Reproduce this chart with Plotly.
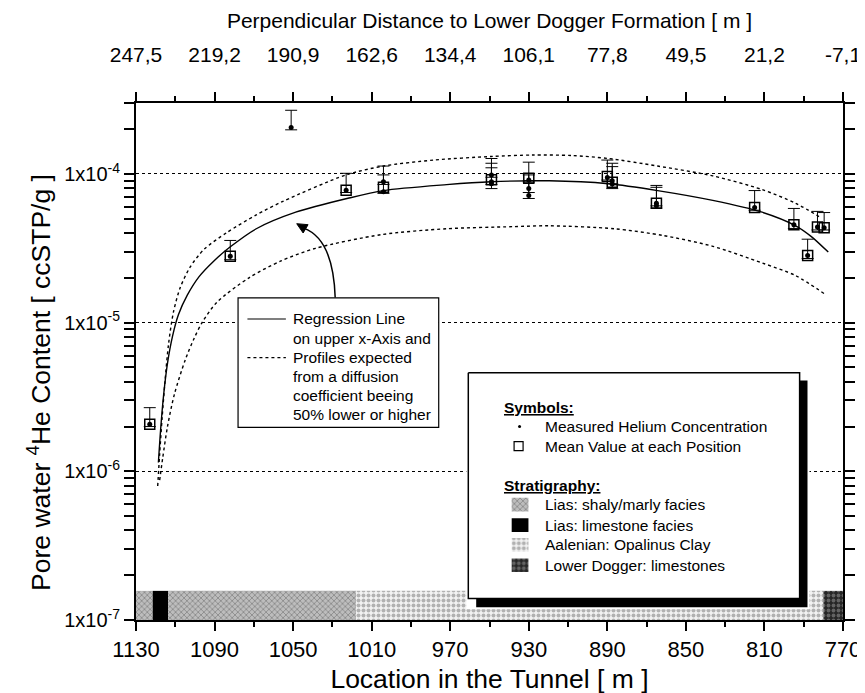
import plotly.graph_objects as go
import math

# ---------------- data ----------------
# individual measurements: location [m], value, upper end of error bar, lower end of error bar
meas_loc = [1123, 1082, 1051, 1023, 1004, 1004, 949, 949, 949, 930, 930, 930,
            890, 887.5, 887.5, 865, 865, 815, 795, 788, 783, 779.6]
meas_val = [2.07e-6, 2.80e-5, 2.05e-4, 7.77e-5, 8.85e-5, 7.6e-5, 9.85e-5, 8.86e-5, 8.6e-5,
            9.1e-5, 7.97e-5, 7.17e-5, 9.45e-5, 9.0e-5, 8.55e-5, 6.35e-5, 6.1e-5,
            5.94e-5, 4.55e-5, 2.83e-5, 4.39e-5, 4.35e-5]
meas_hi = [2.68e-6, 3.57e-5, 2.68e-4, 1.01e-4, 1.13e-4, 9.85e-5, 1.27e-4, 1.18e-4, 1.10e-4,
           1.20e-4, 9.85e-5, 9.0e-5, 1.24e-4, 1.18e-4, 1.12e-4, 8.37e-5, 8.13e-5,
           7.73e-5, 5.86e-5, 3.64e-5, 5.6e-5, 5.5e-5]
meas_lo = [2.0e-6, 2.65e-5, 1.98e-4, 7.5e-5, 8.5e-5, 7.4e-5, 9.5e-5, 8.5e-5, 7.97e-5,
           8.8e-5, 7.5e-5, 6.84e-5, 9.1e-5, 8.6e-5, 7.97e-5, 6.1e-5, 5.9e-5,
           5.7e-5, 4.3e-5, 2.7e-5, 4.2e-5, 4.2e-5]

# mean value at each position
mean_loc = [1123, 1082, 1023, 1004, 949, 930, 890, 887.5, 865, 815, 795, 788, 783, 779.6]
mean_val = [2.07e-6, 2.80e-5, 7.77e-5, 8.13e-5, 9.13e-5, 9.37e-5, 9.6e-5, 8.8e-5,
            6.35e-5, 5.94e-5, 4.55e-5, 2.83e-5, 4.39e-5, 4.35e-5]

# regression line
reg_loc = [1118.6, 1117.45, 1115.94, 1113.93, 1111.42, 1108.41, 1103.89, 1097.87, 1090.33,
           1082.3, 1068.75, 1048.66, 1022.05, 1004.0, 971.85, 949.3, 919.6, 889.5, 864.4,
           836.3, 811.2, 794.1, 786.1, 777.5]
reg_val = [1.146e-6, 1.92e-6, 3.26e-6, 5.37e-6, 8.09e-6, 1.13e-5, 1.53e-5, 2.04e-5, 2.60e-5,
           3.21e-5, 4.28e-5, 5.53e-5, 6.86e-5, 7.73e-5, 8.47e-5, 8.86e-5, 8.99e-5, 8.59e-5,
           7.73e-5, 6.64e-5, 5.53e-5, 4.48e-5, 3.79e-5, 2.98e-5]

# profile expected for the higher diffusion coefficient
up_loc = [1118.95, 1117.95, 1116.69, 1115.19, 1113.43, 1110.92, 1107.41, 1102.39, 1095.36,
          1083.81, 1068.75, 1055.19, 1023.06, 1003.98, 978.37, 949.25, 928.16, 908.08,
          889.5, 864.4, 836.28, 811.18, 794.11, 781.06]
up_val = [7.96e-7, 1.31e-6, 2.30e-6, 4.09e-6, 7.17e-6, 1.18e-5, 1.73e-5, 2.37e-5, 3.11e-5,
          4.03e-5, 5.30e-5, 6.54e-5, 9.85e-5, 1.13e-4, 1.24e-4, 1.31e-4, 1.34e-4, 1.33e-4,
          1.27e-4, 1.13e-4, 9.7e-5, 7.85e-5, 6.35e-5, 5.06e-5]

# profile expected for the lower diffusion coefficient
lo_loc = [1117.95, 1116.44, 1113.93, 1110.42, 1104.9, 1100.38, 1096.36, 1088.83, 1072.26,
          1056.19, 1038.62, 1004.98, 971.85, 938.21, 919.63, 886.49, 861.39, 836.28,
          811.18, 794.11, 779.05]
lo_val = [8.73e-7, 1.22e-6, 2.01e-6, 3.31e-6, 5.62e-6, 7.85e-6, 1.0e-5, 1.37e-5, 2.01e-5,
          2.60e-5, 3.16e-5, 3.91e-5, 4.28e-5, 4.42e-5, 4.48e-5, 4.28e-5, 3.85e-5, 3.26e-5,
          2.52e-5, 2.07e-5, 1.55e-5]

# stratigraphy along the tunnel
strat_start = [1130, 1121.5, 1113.6, 1018, 780]
strat_end = [1121.5, 1113.6, 1018, 780, 770]
strat_unit = ["shaly", "limestone", "shaly", "opalinus", "dogger"]
strat_top = 1.57e-7
strat_base = 1e-7

# axis ticks
bottom_ticks = [1130, 1090, 1050, 1010, 970, 930, 890, 850, 810, 770]
top_labels = ["247,5", "219,2", "190,9", "162,6", "134,4", "106,1", "77,8", "49,5", "21,2", "-7,1"]
y_ticks = [1e-7, 1e-6, 1e-5, 1e-4]
y_labels = ["1x10<sup>-7</sup>", "1x10<sup>-6</sup>", "1x10<sup>-5</sup>", "1x10<sup>-4</sup>"]

legend_units = ["shaly", "limestone", "opalinus", "dogger"]
legend_names = ["Lias: shaly/marly facies", "Lias: limestone facies",
                "Aalenian: Opalinus Clay", "Lower Dogger: limestones"]
note_lines = ["Regression Line", "on upper x-Axis and", "Profiles expected",
              "from a diffusion", "coefficient beeing", "50% lower or higher"]

# ---------------- styling ----------------
FONT = "Liberation Sans, Arial, sans-serif"
W, H = 865, 693
L, R, T, B = 128, 845, 86, 615

def px(x):
    return (x - L) / (R - L)

def py(y):
    return (B - y) / (B - T)

patterns = {
    "shaly": dict(fillcolor="#b4b4b4", fillpattern=dict(shape="x", bgcolor="#bdbdbd", fgcolor="#4a4a4a", size=4, solidity=0.35)),
    "limestone": dict(fillcolor="black", fillpattern=None),
    "opalinus": dict(fillcolor="#eeeeee", fillpattern=dict(shape=".", bgcolor="#f2f2f2", fgcolor="#707070", size=5, solidity=0.5)),
    "dogger": dict(fillcolor="#333333", fillpattern=dict(shape=".", bgcolor="#262626", fgcolor="#a0a0a0", size=5, solidity=0.45)),
}

fig = go.Figure()

# stratigraphy strip
for s, e, u in zip(strat_start, strat_end, strat_unit):
    st = patterns[u]
    kw = dict(x=[s, e, e, s, s], y=[strat_base, strat_base, strat_top, strat_top, strat_base],
              mode="lines", fill="toself", line=dict(width=0), fillcolor=st["fillcolor"],
              showlegend=False, hoverinfo="skip")
    if st["fillpattern"] is not None:
        kw["fillpattern"] = st["fillpattern"]
    fig.add_trace(go.Scatter(**kw))

# curves
fig.add_trace(go.Scatter(x=up_loc, y=up_val, mode="lines", line=dict(color="black", width=1.4, dash="dot", shape="spline", smoothing=0.8), showlegend=False))
fig.add_trace(go.Scatter(x=lo_loc, y=lo_val, mode="lines", line=dict(color="black", width=1.4, dash="dot", shape="spline", smoothing=0.8), showlegend=False))
fig.add_trace(go.Scatter(x=reg_loc, y=reg_val, mode="lines", line=dict(color="black", width=1.4, shape="spline", smoothing=0.8), showlegend=False))

# mean squares
fig.add_trace(go.Scatter(x=mean_loc, y=mean_val, mode="markers",
                         marker=dict(symbol="square-open", size=10, color="black", line=dict(width=1.5)),
                         showlegend=False))
# measurements with error bars
fig.add_trace(go.Scatter(x=meas_loc, y=meas_val, mode="markers",
                         marker=dict(symbol="circle", size=5, color="black"),
                         error_y=dict(type="data", symmetric=False,
                                      array=[h - v for h, v in zip(meas_hi, meas_val)],
                                      arrayminus=[v - l for v, l in zip(meas_val, meas_lo)],
                                      color="black", thickness=1, width=6),
                         showlegend=False))

# invisible trace for the top axis
fig.add_trace(go.Scatter(x=[1130], y=[1e-6], xaxis="x2", mode="markers",
                         marker=dict(opacity=0), showlegend=False, hoverinfo="skip"))

# ---------------- legend box (own hidden axes, in pixel units) ----------------
LX0, LX1, LY0, LY1 = 463, 811, 360, 604
fig.add_trace(go.Scatter(x=[473, 809, 809, 473, 473], y=[370, 370, 602, 602, 370], xaxis="x3", yaxis="y3",
                         mode="lines", fill="toself", fillcolor="black", line=dict(width=0, color="black"),
                         showlegend=False, hoverinfo="skip"))
fig.add_trace(go.Scatter(x=[465, 801, 801, 465, 465], y=[362, 362, 593, 593, 362], xaxis="x3", yaxis="y3",
                         mode="lines", fill="toself", fillcolor="white", line=dict(width=1.5, color="black"),
                         showlegend=False, hoverinfo="skip"))
item_y = [497, 518, 538, 559]
for yy, u in zip(item_y, legend_units):
    st = patterns[u]
    kw = dict(x=[509, 526, 526, 509, 509], y=[yy - 7, yy - 7, yy + 7, yy + 7, yy - 7], xaxis="x3", yaxis="y3",
              mode="lines", fill="toself", fillcolor=st["fillcolor"], line=dict(width=0),
              showlegend=False, hoverinfo="skip")
    if st["fillpattern"] is not None:
        kw["fillpattern"] = st["fillpattern"]
    fig.add_trace(go.Scatter(**kw))
fig.add_trace(go.Scatter(x=[517], y=[417], xaxis="x3", yaxis="y3", mode="markers",
                         marker=dict(symbol="circle", size=3, color="black"), showlegend=False))
fig.add_trace(go.Scatter(x=[516], y=[437], xaxis="x3", yaxis="y3", mode="markers",
                         marker=dict(symbol="square-open", size=9, color="black", line=dict(width=1.2)), showlegend=False))

annotations = []
LFS = 15.5
def ann3(x, y, text):
    annotations.append(dict(xref="x3", yref="y3", x=x, y=y, text=text, showarrow=False,
                            xanchor="left", yanchor="middle", font=dict(family=FONT, size=LFS, color="black")))

ann3(499, 398, "<b><u>Symbols:</u></b>")
ann3(541, 417, "Measured Helium Concentration")
ann3(541, 437, "Mean Value at each Position")
ann3(499, 477, "<b><u>Stratigraphy:</u></b>")
for yy, name in zip(item_y, legend_names):
    ann3(541, yy, name)

# ---------------- note box with curved arrow ----------------
shapes = []
shapes.append(dict(type="rect", xref="paper", yref="paper", x0=px(231.5), x1=px(435), y0=py(418), y1=py(285.5),
                   fillcolor="white", line=dict(color="black", width=1.2), layer="above"))
shapes.append(dict(type="line", xref="paper", yref="paper", x0=px(241), x1=px(280), y0=py(307), y1=py(307),
                   line=dict(color="black", width=1.2), layer="above"))
shapes.append(dict(type="line", xref="paper", yref="paper", x0=px(241), x1=px(280), y0=py(346.5), y1=py(346.5),
                   line=dict(color="black", width=1.2, dash="dot"), layer="above"))
shapes.append(dict(type="path", xref="paper", yref="paper",
                   path=f"M {px(330)},{py(285)} Q {px(328)},{py(225)} {px(298)},{py(214)}",
                   line=dict(color="black", width=1.5), layer="above"))
shapes.append(dict(type="path", xref="paper", yref="paper",
                   path=f"M {px(291)},{py(209.5)} L {px(302.5)},{py(210.5)} L {px(297.5)},{py(219)} Z",
                   fillcolor="black", line=dict(color="black", width=1), layer="above"))
note_y = [307, 327, 346.5, 366, 385.5, 405]
for yy, txt in zip(note_y, note_lines):
    annotations.append(dict(xref="paper", yref="paper", x=px(285), y=py(yy), text=txt, showarrow=False,
                            xanchor="left", yanchor="middle", font=dict(family=FONT, size=LFS, color="black")))

# y title
annotations.append(dict(xref="paper", yref="paper", x=px(29), y=py(372), text="Pore water <sup>4</sup>He Content [ ccSTP/g ]",
                        showarrow=False, textangle=-90, xanchor="center", yanchor="middle",
                        font=dict(family=FONT, size=26.5, color="black")))

fig.update_layout(
    width=W, height=H,
    margin=dict(l=L, r=W - R, t=T, b=H - B),
    paper_bgcolor="white", plot_bgcolor="white",
    showlegend=False,
    font=dict(family=FONT, color="black"),
    shapes=shapes, annotations=annotations,
    xaxis=dict(range=[1130, 770], tickmode="array", tickvals=bottom_ticks,
               ticks="outside", ticklen=9, tickwidth=1.5, tickcolor="black",
               minor=dict(dtick=20, tick0=770, ticks="outside", ticklen=5, tickwidth=1.5, tickcolor="black"),
               showline=True, linewidth=2, linecolor="black", showgrid=False, zeroline=False,
               tickfont=dict(family=FONT, size=22),
               title=dict(text="Location in the Tunnel [ m ]", font=dict(family=FONT, size=26.5), standoff=8)),
    xaxis2=dict(range=[1130, 770], overlaying="x", side="top", tickmode="array", tickvals=bottom_ticks,
                ticktext=top_labels, ticks="outside", ticklen=9, tickwidth=1.5, tickcolor="black",
                minor=dict(dtick=20, tick0=770, ticks="outside", ticklen=5, tickwidth=1.5, tickcolor="black"),
                showline=True, linewidth=2, linecolor="black", showgrid=False, zeroline=False,
                tickfont=dict(family=FONT, size=21), ticklabelstandoff=22,
                title=dict(text="Perpendicular Distance to Lower Dogger Formation [ m ]",
                           font=dict(family=FONT, size=21), standoff=8)),
    yaxis=dict(type="log", range=[-7, math.log10(3e-4)], tickmode="array", tickvals=y_ticks, ticktext=y_labels,
               ticks="outside", ticklen=10, tickwidth=1.5, tickcolor="black",
               minor=dict(dtick="D1", ticks="outside", ticklen=6, tickwidth=1.5, tickcolor="black"),
               showline=True, linewidth=2, linecolor="black", mirror="allticks",
               showgrid=True, gridcolor="black", griddash="dot", gridwidth=1, zeroline=False,
               tickfont=dict(family=FONT, size=20)),
    xaxis3=dict(domain=[px(LX0), px(LX1)], range=[LX0, LX1], anchor="y3", visible=False, fixedrange=True),
    yaxis3=dict(domain=[py(LY1), py(LY0)], range=[LY1, LY0], anchor="x3", visible=False, fixedrange=True),
)

fig.write_html("out.html")
